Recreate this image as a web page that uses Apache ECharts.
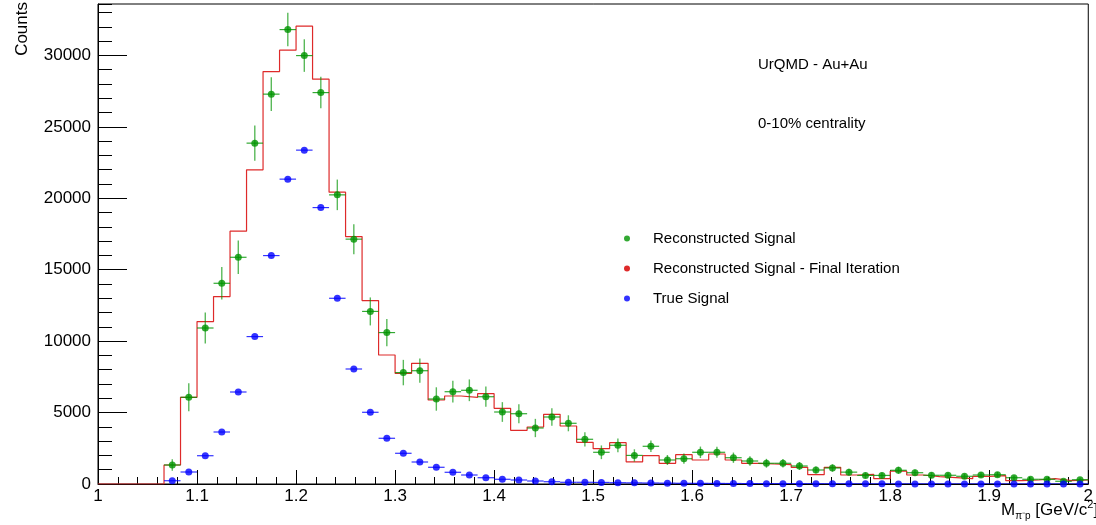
<!DOCTYPE html>
<html>
<head>
<meta charset="utf-8">
<script src="https://cdn.jsdelivr.net/npm/echarts@6/dist/echarts.min.js"></script>
<style>
  html, body { margin: 0; padding: 0; background: #fff; }
  #chart { width: 1096px; height: 525px; }
</style>
</head>
<body>
<div id="chart"></div>
<script>
// histogram binning: 60 bins between 1 and 2 GeV/c^2
const xMin = 1.0
const xMax = 2.0
const nBins = 60

// reconstructed signal (green points) and its errors, per bin
const reco = [null, null, null, null, 1330, 6070, 10920, 14050, 15870, 23860,
  27290, 31810, 29990, 27400, 20240, 17140, 12080, 10600, 7800, 7930,
  5950, 6460, 6560, 6110, 5040, 4920, 3920, 4690, 4250, 3130,
  2220, 2710, 2000, 2640, 1680, 1770, 2220, 2220, 1840, 1610,
  1450, 1450, 1260, 980, 1120, 830, 600, 600, 960, 790,
  610, 610, 540, 630, 650, 440, 330, 330, 190, 300]
const recoErr = [0, 0, 0, 0, 400, 980, 1090, 1140, 1170, 1230,
  1180, 1170, 1140, 1100, 1070, 1050, 980, 950, 890, 850,
  820, 760, 760, 710, 690, 670, 640, 610, 560, 500,
  480, 480, 430, 400, 350, 360, 400, 390, 360, 330,
  310, 300, 280, 250, 260, 230, 200, 200, 250, 220,
  200, 190, 180, 190, 190, 160, 140, 140, 110, 130]
// reconstructed signal - final iteration (red histogram)
const finalIter = [0, 0, 0, 0, 1330, 6070, 11370, 13120, 17700, 21990,
  28870, 30370, 32050, 28340, 20430, 17320, 12840, 9030, 7750, 8450,
  5880, 6160, 6070, 6320, 5300, 3760, 3990, 4880, 4060, 2920,
  2470, 2890, 1550, 1980, 1450, 2050, 1680, 2100, 1680, 1450,
  1400, 1350, 1170, 650, 1170, 630, 680, 370, 900, 630,
  510, 440, 370, 540, 580, 230, 280, 370, 230, 280]
// true signal (blue points)
const trueSig = [null, null, null, null, 230, 840, 1980, 3640, 6440, 10320,
  15990, 21340, 23370, 19350, 13000, 8050, 5020, 3200, 2150, 1540,
  1170, 820, 630, 440, 330, 280, 210, 160, 120, 120,
  110, 90, 80, 70, 60, 50, 45, 40, 35, 30,
  25, 22, 20, 18, 15, 12, 10, 9, 8, 7,
  6, 5, 4, 4, 3, 3, 2, 2, 1, 1]

const yMax = 33600
const seriesNames = ['Reconstructed Signal', 'Reconstructed Signal - Final Iteration', 'True Signal']
const notes = ['UrQMD - Au+Au', '0-10% centrality']

const binW = (xMax - xMin) / nBins
const center = k => xMin + (k + 0.5) * binW

const recoPts = []
const truePts = []
const stepPts = []
for (let k = 0; k < nBins; k++) {
  if (reco[k] != null) recoPts.push([center(k), reco[k], recoErr[k]])
  if (trueSig[k] != null) truePts.push([center(k), trueSig[k], 0])
  stepPts.push([xMin + k * binW, finalIter[k]])
}
stepPts.push([xMax, finalIter[nBins - 1]])

const GREEN = '#009400'
const RED = '#de2a2a'
const BLUE = '#0000ff'
const FONT = 'Liberation Sans, Arial, Helvetica, sans-serif'

function errorBars(color, vertical) {
  return function (params, api) {
    const x = api.value(0)
    const y = api.value(1)
    const e = api.value(2)
    const l = api.coord([x - binW / 2, y])
    const r = api.coord([x + binW / 2, y])
    const children = [{
      type: 'line',
      shape: { x1: l[0], y1: l[1], x2: r[0], y2: r[1] },
      style: { stroke: color, lineWidth: 1.2, opacity: 0.8 }
    }]
    if (vertical && e > 0) {
      const t = api.coord([x, y + e])
      const b = api.coord([x, y - e])
      children.push({
        type: 'line',
        shape: { x1: t[0], y1: t[1], x2: b[0], y2: b[1] },
        style: { stroke: color, lineWidth: 1.4, opacity: 0.65 }
      })
    }
    return { type: 'group', children }
  }
}

const chart = echarts.init(document.getElementById('chart'))
chart.setOption({
  animation: false,
  backgroundColor: '#fff',
  textStyle: { fontFamily: FONT },
  grid: {
    left: 98, right: 3, top: 4, bottom: 41,
    show: true, borderColor: '#000', borderWidth: 1
  },
  legend: {
    data: seriesNames,
    orient: 'vertical',
    left: 619,
    top: 226,
    icon: 'circle',
    itemWidth: 6,
    itemHeight: 6,
    itemGap: 15,
    selectedMode: false,
    textStyle: { fontSize: 15, color: '#000', lineHeight: 15, padding: [0, 0, 0, 18], fontFamily: FONT }
  },
  xAxis: {
    type: 'value',
    min: xMin,
    max: xMax,
    interval: 0.1,
    axisLine: { lineStyle: { color: '#000', width: 1 } },
    axisTick: { inside: true, length: 14, lineStyle: { color: '#000' } },
    minorTick: { show: true, splitNumber: 5, length: 7, lineStyle: { color: '#000' } },
    splitLine: { show: false },
    axisLabel: {
      fontSize: 17, color: '#000', margin: 4, fontFamily: FONT,
      formatter: v => String(+v.toFixed(1))
    }
  },
  yAxis: [{
    type: 'value',
    min: 0,
    max: yMax,
    interval: 5000,
    axisLine: { show: true, lineStyle: { color: '#000', width: 1 } },
    axisTick: { inside: true, length: 29, lineStyle: { color: '#000' } },
    splitLine: { show: false },
    axisLabel: {
      fontSize: 17, color: '#000', margin: 7, showMaxLabel: false, fontFamily: FONT,
      formatter: v => String(v)
    }
  }, {
    type: 'value',
    min: 0,
    max: yMax,
    interval: 1000,
    position: 'left',
    axisLine: { show: false },
    axisTick: { show: true, inside: true, length: 14, lineStyle: { color: '#000' } },
    splitLine: { show: false },
    axisLabel: { show: false }
  }],
  graphic: [
    {
      type: 'text', x: 22, y: 2, rotation: Math.PI / 2,
      style: { text: 'Counts', font: '17px ' + FONT, fill: '#000', align: 'right', verticalAlign: 'middle' }
    },
    {
      type: 'text', x: 758, y: 65,
      style: { text: notes[0], font: '15px ' + FONT, fill: '#000', align: 'left', verticalAlign: 'middle' }
    },
    {
      type: 'text', x: 758, y: 124,
      style: { text: notes[1], font: '15px ' + FONT, fill: '#000', align: 'left', verticalAlign: 'middle' }
    },
    {
      type: 'text', x: 1001, y: 510,
      style: {
        text: '{m|M}{s|π⁻p}{m| [GeV/c}{p|2}{m|]}',
        align: 'left', verticalAlign: 'middle',
        rich: {
          m: { fontSize: 17, fontFamily: FONT, fill: '#000', lineHeight: 22, verticalAlign: 'middle' },
          s: { fontSize: 10, fontFamily: FONT, fill: '#000', lineHeight: 22, verticalAlign: 'bottom' },
          p: { fontSize: 11, fontFamily: FONT, fill: '#000', lineHeight: 22, verticalAlign: 'top' }
        }
      }
    }
  ],
  series: [
    {
      name: seriesNames[1],
      type: 'line',
      step: 'end',
      data: stepPts,
      symbol: 'none',
      color: RED,
      lineStyle: { color: RED, width: 1.2 },
      z: 2
    },
    {
      type: 'custom',
      data: recoPts,
      renderItem: errorBars(GREEN, true),
      encode: { x: 0, y: 1 },
      clip: true,
      silent: true,
      z: 3
    },
    {
      name: seriesNames[0],
      type: 'scatter',
      data: recoPts,
      symbolSize: 7,
      color: GREEN,
      itemStyle: { color: GREEN },
      z: 4
    },
    {
      type: 'custom',
      data: truePts,
      renderItem: errorBars(BLUE, false),
      encode: { x: 0, y: 1 },
      clip: true,
      silent: true,
      z: 3
    },
    {
      name: seriesNames[2],
      type: 'scatter',
      data: truePts,
      symbolSize: 7,
      color: BLUE,
      itemStyle: { color: BLUE },
      z: 5
    }
  ]
})
</script>
</body>
</html>
